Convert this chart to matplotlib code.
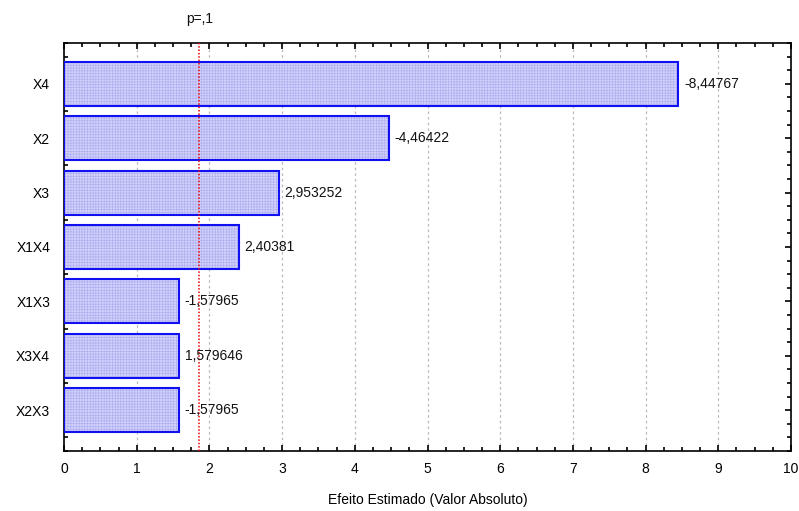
import matplotlib
matplotlib.use("Agg")
import matplotlib.pyplot as plt
from matplotlib.ticker import MultipleLocator
from matplotlib.transforms import blended_transform_factory

plt.rcParams['font.family'] = ['Liberation Sans', 'DejaVu Sans']
plt.rcParams['hatch.linewidth'] = 0.5

# standardized effects (Pareto chart), top to bottom
factors = ["X4", "X2", "X3", "X1X4", "X1X3", "X3X4", "X2X3"]
effects = [-8.44767, -4.46422, 2.953252, 2.40381, -1.57965, 1.579646, -1.57965]
p_crit = 1.859548  # t critical value for p=.1
x_ticks = list(range(0, 11))

fig = plt.figure(figsize=(7.99, 5.11), dpi=100)
ax = fig.add_axes([0.0801, 0.1174, 0.9099, 0.7985])

ypos = [len(factors) - 1 - i for i in range(len(factors))]
widths = [abs(v) for v in effects]

ax.set_xlim(0, 10)
ax.set_ylim(-0.75, len(factors) - 0.25)

# vertical grid
for t in x_ticks[1:-1]:
    ax.axvline(t, color='#b8b8b8', lw=0.9, ls=(0, (2, 2.5)), zorder=0)

# bars: light fill, fine pattern, blue outline
ax.barh(ypos, widths, height=0.81, color='#d2d2fa', edgecolor='none', zorder=2)
ax.barh(ypos, widths, height=0.81, color='none', edgecolor='#b0b0f2',
        hatch='++++++', linewidth=0, zorder=3)
ax.barh(ypos, widths, height=0.81, color='none', edgecolor='#1010f0',
        linewidth=1.5, zorder=4)

for y, w, v in zip(ypos, widths, effects):
    ax.text(w + 0.08, y, str(v).replace('.', ','), va='center', ha='left',
            fontsize=10, color='#111111', zorder=6)

ax.axvline(p_crit, color='#ee0000', lw=1.1, ls=(0, (1, 1.2)), zorder=5)
trans = blended_transform_factory(ax.transData, ax.transAxes)
ax.text(p_crit, 1.058, "p=,1", transform=trans, ha='center', va='center',
        fontsize=10, color='#111111')

ax.set_yticks(ypos)
ax.set_yticklabels(factors, fontsize=10)
ax.set_xticks(x_ticks)
ax.set_xticklabels([str(t) for t in x_ticks], fontsize=10)
ax.xaxis.set_minor_locator(MultipleLocator(0.25))
ax.yaxis.set_minor_locator(MultipleLocator(0.25))
ax.tick_params(which='both', direction='in', top=True, right=True, width=1.2)
ax.tick_params(which='major', length=4, pad=8)
ax.tick_params(which='minor', length=3)
ax.tick_params(axis='y', which='major', pad=10)

for s in ax.spines.values():
    s.set_linewidth(1.2)

ax.set_xlabel("Efeito Estimado (Valor Absoluto)", fontsize=10, labelpad=12)

fig.savefig("out.png", dpi=100)
